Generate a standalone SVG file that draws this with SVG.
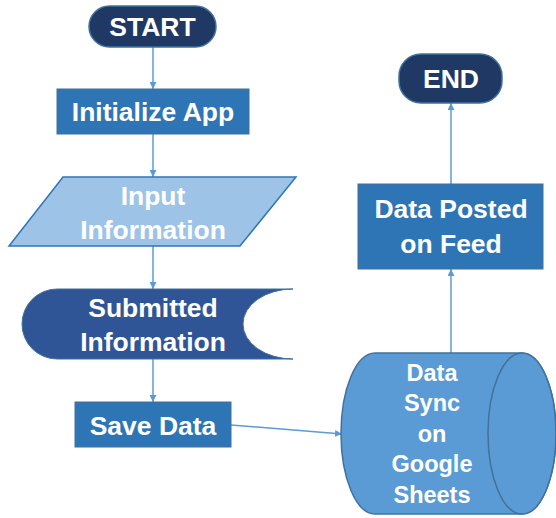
<svg xmlns="http://www.w3.org/2000/svg" width="556" height="518" viewBox="0 0 556 518">
<defs>
<style>
.t{font-family:"Liberation Sans",Arial,sans-serif;font-weight:bold;font-size:26.5px;fill:#fff;text-anchor:middle}
.s{font-size:23.5px}
.term{fill:#1F3864;stroke:#41719C;stroke-width:1.5}
.proc{fill:#2E75B6;stroke:#41719C;stroke-width:1}
.conn{stroke:#5B9BD5;stroke-width:1.5;fill:none;marker-end:url(#ah)}
</style>
<marker id="ah" viewBox="0 0 10 10" refX="10" refY="5" markerWidth="7" markerHeight="7" markerUnits="userSpaceOnUse" orient="auto">
<path d="M0,0 L10,5 L0,10 z" fill="#5B9BD5"/>
</marker>
</defs>
<rect width="556" height="518" fill="#fff"/>
<g id="connectors">
<line class="conn" x1="153" y1="47" x2="153" y2="89"/>
<line class="conn" x1="153" y1="134" x2="153" y2="177"/>
<line class="conn" x1="153" y1="246" x2="153" y2="289"/>
<line class="conn" x1="153" y1="359" x2="153" y2="402"/>
<line class="conn" x1="231" y1="425" x2="342" y2="434"/>
<line class="conn" x1="451" y1="353" x2="451" y2="269"/>
<line class="conn" x1="451" y1="184" x2="451" y2="103"/>
</g>
<g id="start">
<rect class="term" x="89" y="6" width="127" height="41" rx="20.5"/>
<text class="t" x="152.5" y="36">START</text>
</g>
<g id="init">
<rect class="proc" x="57" y="89" width="192" height="45"/>
<text class="t" x="153" y="121">Initialize App</text>
</g>
<g id="input">
<polygon points="63,177 296,177 240,246 9,246" fill="#9DC3E6" stroke="#2E75B6" stroke-width="1.5"/>
<text class="t" x="153" y="205">Input</text>
<text class="t" x="153" y="239">Information</text>
</g>
<g id="submitted">
<path d="M57,289 H293 A50,35 0 0 0 293,359 H57 A35,35 0 0 1 57,289 Z" fill="#2F5597" stroke="#41719C" stroke-width="1"/>
<text class="t" x="153" y="317">Submitted</text>
<text class="t" x="153" y="351">Information</text>
</g>
<g id="save">
<rect class="proc" x="75" y="402" width="156" height="45"/>
<text class="t" x="153" y="435">Save Data</text>
</g>
<g id="sync">
<path d="M375,353 H522 A34,80.5 0 0 1 522,514 H375 A34,80.5 0 0 1 375,353 Z" fill="#5B9BD5" stroke="#41719C" stroke-width="1.5"/>
<ellipse cx="522" cy="433.5" rx="34" ry="80.5" fill="#5B9BD5" stroke="#41719C" stroke-width="1.5"/>
<text class="t s" x="432" y="381">Data</text>
<text class="t s" x="432" y="411">Sync</text>
<text class="t s" x="432" y="442">on</text>
<text class="t s" x="432" y="472">Google</text>
<text class="t s" x="432" y="503">Sheets</text>
</g>
<g id="posted">
<rect class="proc" x="358" y="184" width="185" height="85"/>
<text class="t" x="451" y="218">Data Posted</text>
<text class="t" x="451" y="253">on Feed</text>
</g>
<g id="end">
<rect class="term" x="399" y="54" width="103" height="49" rx="22"/>
<text class="t" x="451" y="88">END</text>
</g>
</svg>
